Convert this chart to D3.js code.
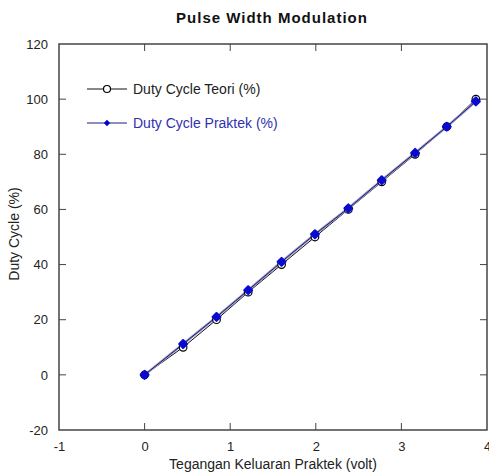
<!DOCTYPE html>
<html>
<head>
<meta charset="utf-8">
<script src="https://cdn.jsdelivr.net/npm/d3@7/dist/d3.min.js"></script>
<style>
  body { margin: 0; background: #fff; }
  text { font-family: "Liberation Sans", Arial, sans-serif; }
</style>
</head>
<body>
<div id="chart"></div>
<script>
// data
var voltage = [0, 0.45, 0.84, 1.21, 1.6, 1.99, 2.38, 2.77, 3.16, 3.53, 3.87];
var dutyTeori = [0, 10, 20, 30, 40, 50, 60, 70, 80, 90, 100];
var dutyPraktek = [0, 11.2, 21, 30.7, 41, 51, 60.4, 70.6, 80.5, 90, 99.2];
var xTicks = [-1, 0, 1, 2, 3, 4];
var yTicks = [-20, 0, 20, 40, 60, 80, 100, 120];

var width = 489;
var height = 472;

var svg = d3.select("#chart")
  .append("svg")
  .attr("width", width)
  .attr("height", height);

// plot box
var plotLeft = 59, plotRight = 487, plotTop = 44, plotBottom = 430;

var xScale = d3.scaleLinear().domain([-1, 4]).range([plotLeft, plotRight]);
var yScale = d3.scaleLinear().domain([-20, 120]).range([plotBottom, plotTop]);

var frameColor = "#444";
var tickLen = 7;

// axes, ticks pointing inward
var plain = function(d) { return String(d); };
var xAxis = d3.axisBottom(xScale).tickValues(xTicks).tickFormat(plain).tickSize(0).tickPadding(12);
var yAxis = d3.axisLeft(yScale).tickValues(yTicks).tickFormat(plain).tickSize(0).tickPadding(11);

var gx = svg.append("g")
  .attr("transform", "translate(0," + plotBottom + ")")
  .call(xAxis);
var gy = svg.append("g")
  .attr("transform", "translate(" + plotLeft + ",0)")
  .call(yAxis);

[gx, gy].forEach(function(g) {
  g.select(".domain").remove();
  g.selectAll("text")
    .attr("font-size", 13)
    .attr("fill", "#222")
    .style("font-family", "'Liberation Sans', Arial, sans-serif");
});

// inward tick marks on all four sides
var inner = xTicks.filter(function(d) { return d > -1 && d < 4; });
svg.append("g").selectAll("line")
  .data(inner).enter().append("line")
  .attr("x1", function(d) { return xScale(d); })
  .attr("x2", function(d) { return xScale(d); })
  .attr("y1", plotBottom).attr("y2", plotBottom - tickLen)
  .attr("stroke", frameColor);
svg.append("g").selectAll("line")
  .data(inner).enter().append("line")
  .attr("x1", function(d) { return xScale(d); })
  .attr("x2", function(d) { return xScale(d); })
  .attr("y1", plotTop).attr("y2", plotTop + tickLen)
  .attr("stroke", frameColor);
var innerY = yTicks.filter(function(d) { return d > -20 && d < 120; });
svg.append("g").selectAll("line")
  .data(innerY).enter().append("line")
  .attr("x1", plotLeft).attr("x2", plotLeft + tickLen)
  .attr("y1", function(d) { return yScale(d); })
  .attr("y2", function(d) { return yScale(d); })
  .attr("stroke", frameColor);
svg.append("g").selectAll("line")
  .data(innerY).enter().append("line")
  .attr("x1", plotRight).attr("x2", plotRight - tickLen)
  .attr("y1", function(d) { return yScale(d); })
  .attr("y2", function(d) { return yScale(d); })
  .attr("stroke", frameColor);

svg.append("rect")
  .attr("x", plotLeft).attr("y", plotTop)
  .attr("width", plotRight - plotLeft).attr("height", plotBottom - plotTop)
  .attr("fill", "none")
  .attr("stroke", frameColor)
  .attr("stroke-width", 1.5);

// lines
var teoriData = voltage.map(function(v, i) { return [v, dutyTeori[i]]; });
var praktekData = voltage.map(function(v, i) { return [v, dutyPraktek[i]]; });

var line = d3.line()
  .x(function(d) { return xScale(d[0]); })
  .y(function(d) { return yScale(d[1]); });

svg.append("path")
  .datum(teoriData)
  .attr("d", line)
  .attr("fill", "none")
  .attr("stroke", "#111")
  .attr("stroke-width", 1);

svg.append("path")
  .datum(praktekData)
  .attr("d", line)
  .attr("fill", "none")
  .attr("stroke", "#9a9ac0")
  .attr("stroke-width", 2.5);
svg.append("path")
  .datum(praktekData)
  .attr("d", line)
  .attr("fill", "none")
  .attr("stroke", "#1a1a80")
  .attr("stroke-width", 1);

// markers
svg.append("g").selectAll("circle")
  .data(teoriData).enter().append("circle")
  .attr("cx", function(d) { return xScale(d[0]); })
  .attr("cy", function(d) { return yScale(d[1]); })
  .attr("r", 3.8)
  .attr("fill", "#fff")
  .attr("stroke", "#000")
  .attr("stroke-width", 1.2);

// praktek markers: filled blue diamonds drawn as rotated squares, rounded
var blob = d3.symbol().type(d3.symbolSquare).size(30);
svg.append("g").selectAll("path")
  .data(praktekData).enter().append("path")
  .attr("d", blob)
  .attr("transform", function(d) {
    return "translate(" + xScale(d[0]) + "," + yScale(d[1]) + ") rotate(45)";
  })
  .attr("fill", "#0a0ad0")
  .attr("stroke", "#0a0ad0")
  .attr("stroke-width", 2.2)
  .attr("stroke-linejoin", "round");

// legend
var legend = svg.append("g");
legend.append("line")
  .attr("x1", 87).attr("x2", 127).attr("y1", 89).attr("y2", 89)
  .attr("stroke", "#111");
legend.append("circle")
  .attr("cx", 107).attr("cy", 89).attr("r", 3.5)
  .attr("fill", "#fff").attr("stroke", "#000").attr("stroke-width", 1.2);
legend.append("text")
  .attr("x", 133).attr("y", 94)
  .attr("font-size", 14).attr("fill", "#222")
  .text("Duty Cycle Teori (%)");

legend.append("line")
  .attr("x1", 87).attr("x2", 127).attr("y1", 123).attr("y2", 123)
  .attr("stroke", "#1a1a80");
legend.append("path")
  .attr("d", d3.symbol().type(d3.symbolSquare).size(20))
  .attr("transform", "translate(107,123) rotate(45)")
  .attr("fill", "#0000cc");
legend.append("text")
  .attr("x", 133).attr("y", 128)
  .attr("font-size", 14).attr("fill", "#3030b0")
  .text("Duty Cycle Praktek (%)");

// titles
svg.append("text")
  .attr("x", 272).attr("y", 23)
  .attr("text-anchor", "middle")
  .attr("font-size", 15)
  .attr("font-weight", "bold")
  .attr("letter-spacing", 1)
  .attr("fill", "#111")
  .text("Pulse Width Modulation");

svg.append("text")
  .attr("x", 273).attr("y", 469)
  .attr("text-anchor", "middle")
  .attr("font-size", 14)
  .attr("fill", "#222")
  .text("Tegangan Keluaran Praktek (volt)");

svg.append("text")
  .attr("transform", "translate(19," + 234 + ") rotate(-90)")
  .attr("text-anchor", "middle")
  .attr("font-size", 14)
  .attr("fill", "#222")
  .text("Duty Cycle (%)");
</script>
</body>
</html>
